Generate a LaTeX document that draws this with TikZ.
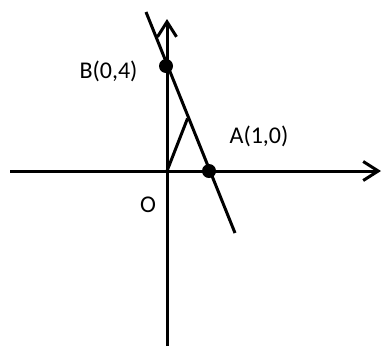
\documentclass[tikz,border=0pt]{standalone}
\usepackage{fontspec}
\setmainfont{Carlito}
\usetikzlibrary{arrows.meta,calc}
\begin{document}
\begin{tikzpicture}[x=1pt,y=-1pt,
  axis/.style={line width=3pt,-{Straight Barb[length=15pt,width=19pt,line width=3pt]}},
  seg/.style={line width=3pt},
  dot/.style={circle,fill=black,inner sep=0pt,minimum size=14pt},
  lbl/.style={font=\fontsize{24}{28}\selectfont,inner sep=0pt}]
\useasboundingbox (0,0) rectangle (382,346);
\coordinate (O) at (167,171);
\coordinate (xl) at (10,171);
\coordinate (xr) at (381,171);
\coordinate (yb) at (167,346);
\coordinate (yt) at (167,19);
\coordinate (Bp) at (166,66);
\coordinate (Ap) at (209,171);
\coordinate (Lt) at (146,12);
\coordinate (Lb) at (235,233);
\coordinate (M) at ($(Ap)!0.5!(Bp)$);
\draw[axis] (xl) -- (xr);
\draw[axis] (yb) -- (yt);
\draw[seg] (Lt) -- (Lb);
\draw[seg] (O) -- (M);
\node[dot] (B) at (Bp) {};
\node[dot] (A) at (Ap) {};
\node[lbl] (Blbl) at (108.5,71) {B(0,4)};
\node[lbl] (Albl) at (259,136) {A(1,0)};
\node[lbl] (Olbl) at (148,205) {O};
\end{tikzpicture}
\end{document}
